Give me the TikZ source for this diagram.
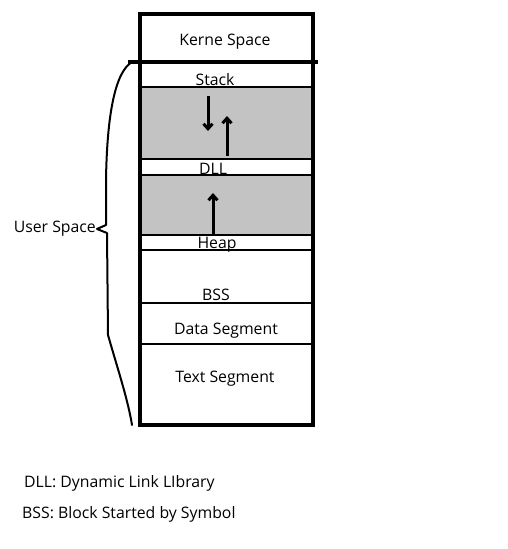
\documentclass[tikz,border=0pt]{standalone}
\usepackage{fontspec}
\setmainfont{Open Sans}
\usetikzlibrary{arrows.meta,positioning}
\definecolor{FreeGray}{HTML}{C3C3C3}

\begin{document}
\begin{tikzpicture}[
  x=1pt, y=-1pt,
  every node/.style={font=\fontsize{15.8}{19}\selectfont, inner sep=1pt},
  frame/.style={line width=4pt},
  divider/.style={line width=2.5pt},
  band/.style={fill=FreeGray},
  growth/.style={-{Straight Barb[length=5pt,width=9pt]}, line width=3pt},
  brace/.style={line width=2pt, line join=round, line cap=round}
]
  \useasboundingbox (0,0) rectangle (507,549);

  % free space between the segments
  \fill[band] (140,87) rectangle (313,159);
  \fill[band] (140,175) rectangle (313,235);

  \foreach \y in {87,159,175,235,250,303,344}
    \draw[divider] (140,\y) -- (313,\y);
  \draw[frame] (128,62) -- (318,62);
  \draw[frame] (140,14) rectangle (313,425);

  \node (kernel) at (225,41.5) {Kerne Space};
  \node (stack) at (215,79.5) {Stack};
  \node (dll) at (213,168.5) {DLL};
  \node (heap) at (217,244.5) {Heap};
  \node (bss) at (216,294.5) {BSS};
  \node (data) at (226,330.5) {Data Segment};
  \node (text) at (225,378.5) {Text Segment};

  \coordinate (stackTop) at (208,96);
  \coordinate (stackEnd) at (208,131);
  \coordinate (dllBase) at (227,156);
  \coordinate (dllEnd) at (227,116);
  \coordinate (heapBase) at (213,236);
  \coordinate (heapEnd) at (213,193);
  \draw[growth] (stackTop) -- (stackEnd);
  \draw[growth] (dllBase) -- (dllEnd);
  \draw[growth] (heapBase) -- (heapEnd);

  % brace round the user space
  \coordinate (braceTop) at (132,62);
  \coordinate (braceTip) at (97,229);
  \coordinate (braceEnd) at (132,425);
  \draw[brace] (braceTop) .. controls (115,72) and (107,115) .. (106,180)
    -- (106,225) -- (braceTip) -- (107,233) -- (108,335)
    .. controls (118,370) and (128,400) .. (braceEnd);
  \node[anchor=east] (user) at (braceTip) {User Space};

  \node[anchor=west] (dllnote) at (23,483) {DLL: Dynamic Link LIbrary};
  \node[anchor=west] (bssnote) at (21,514) {BSS: Block Started by Symbol};
\end{tikzpicture}
\end{document}
